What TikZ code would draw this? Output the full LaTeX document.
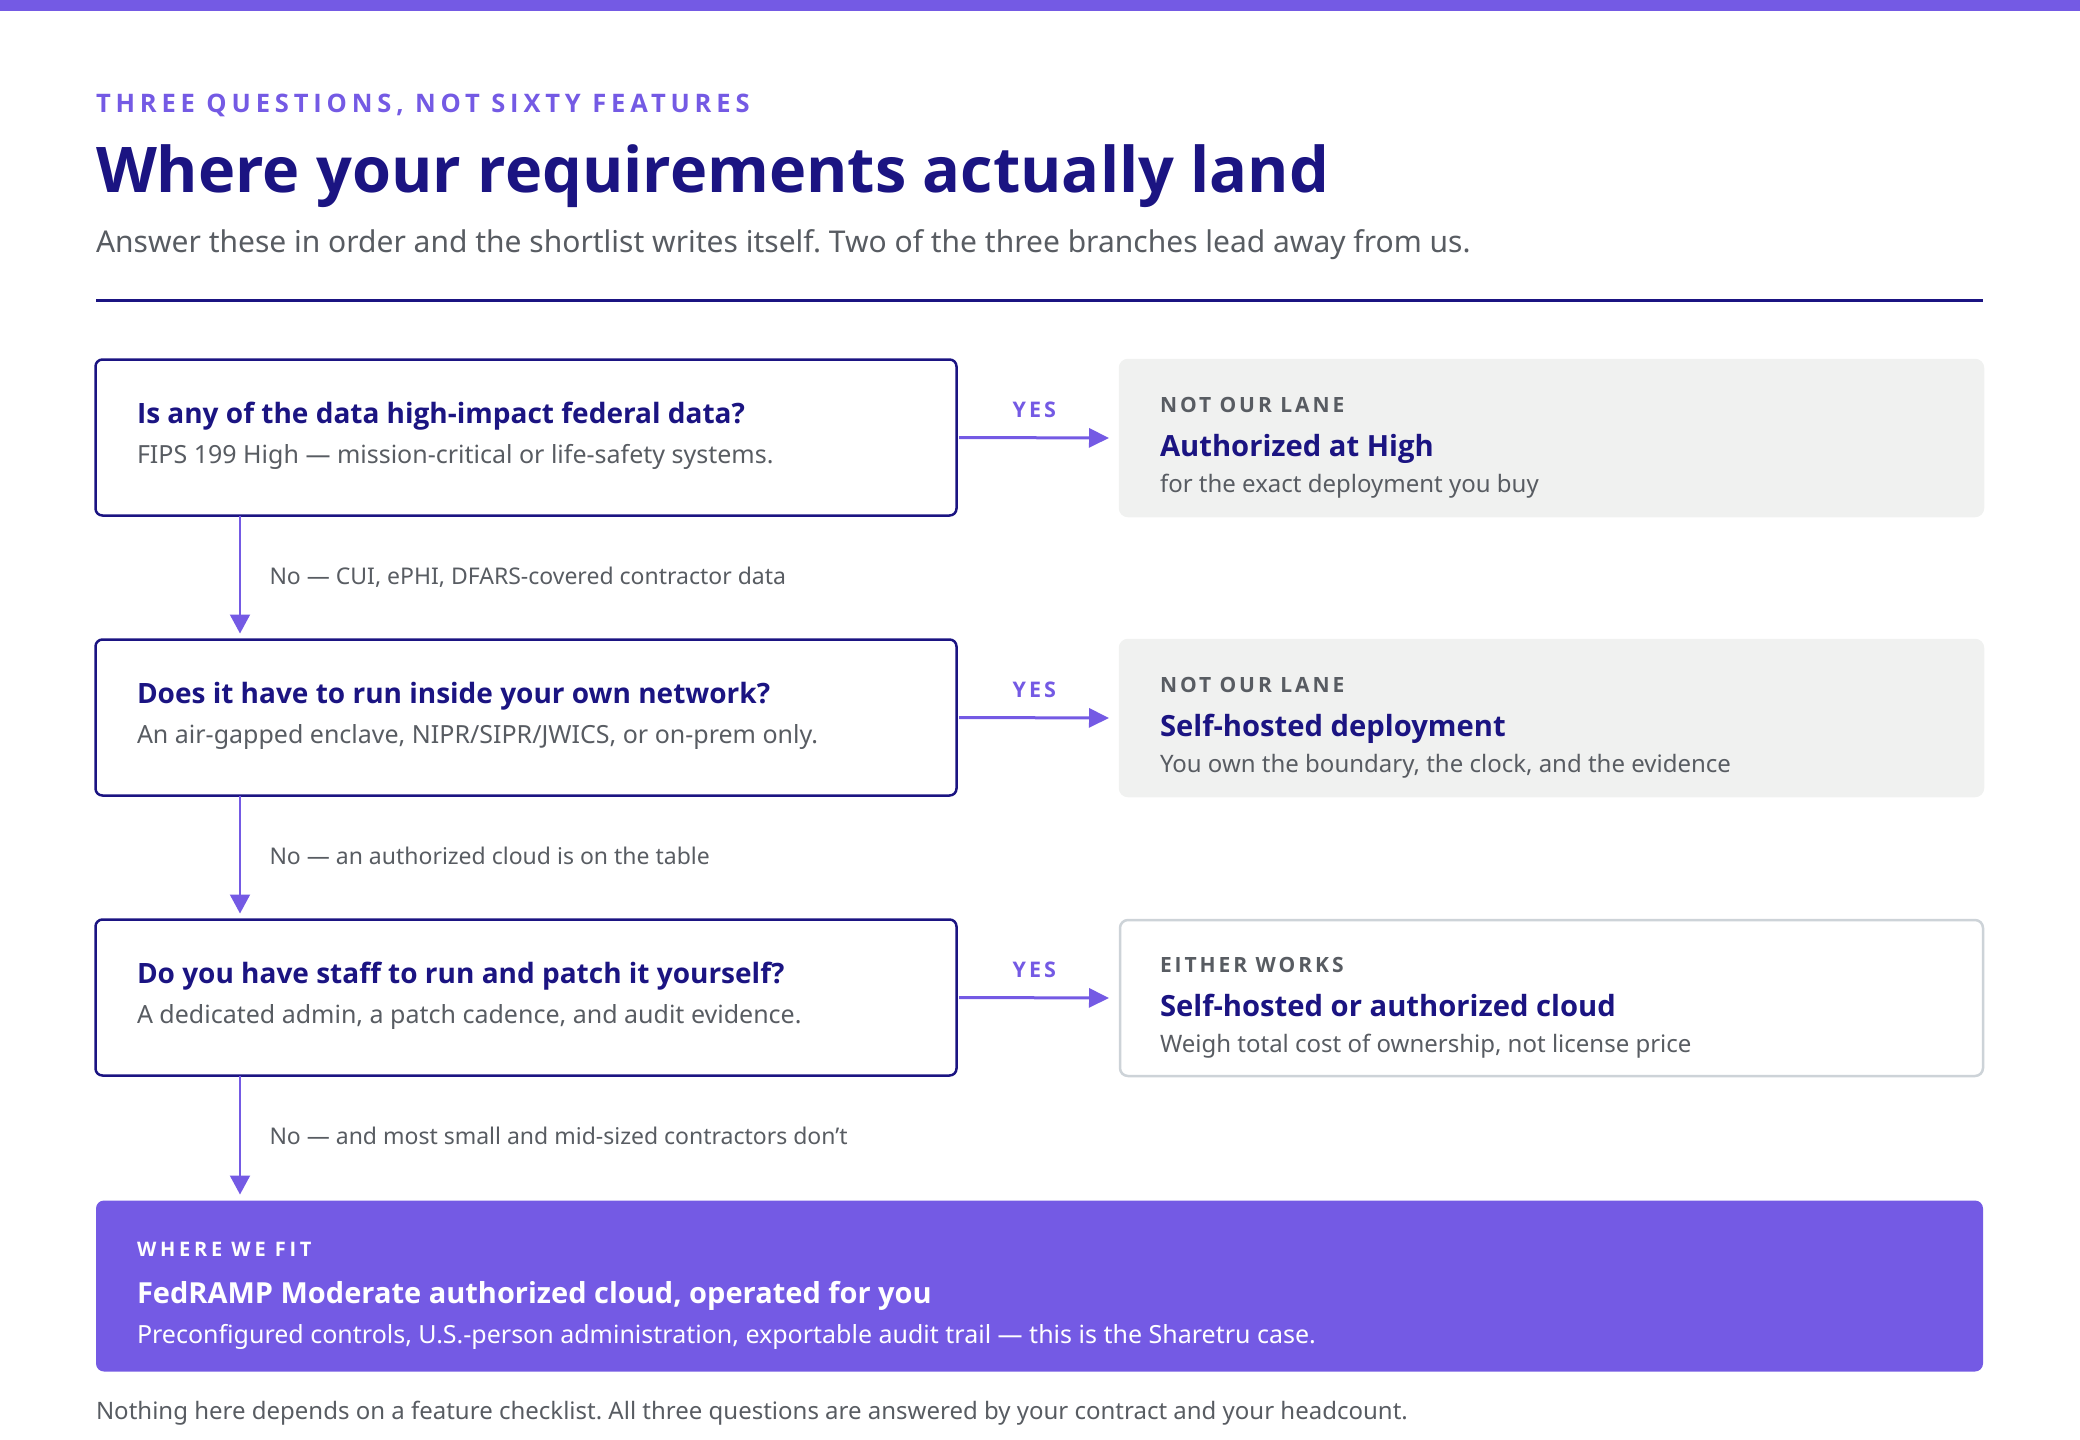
\documentclass[tikz,border=0pt]{standalone}
\usepackage{fontspec}
\setmainfont{Noto Sans}
\newfontfamily\headfont{Open Sans}
\newfontfamily\spacedfont{Open Sans}[LetterSpace=14]
\newfontfamily\kickerfont{Open Sans}[LetterSpace=19]
\usetikzlibrary{arrows.meta,positioning,calc}
\frenchspacing

\definecolor{accent}{RGB}{116,90,228}
\definecolor{navy}{RGB}{27,20,130}
\definecolor{inkgray}{RGB}{88,92,98}
\definecolor{laneg}{RGB}{240,241,240}
\definecolor{edgeg}{RGB}{205,211,216}

\begin{document}
\begin{tikzpicture}[x=1pt, y=-1pt,
	txt/.style={inner sep=0pt, outer sep=0pt, anchor=base west},
	qbox/.style={draw=navy, line width=2.5pt, rounded corners=7pt, minimum width=861pt, minimum height=156pt, inner sep=0pt, outer sep=0pt, anchor=north west},
	rbox/.style={line width=2.5pt, rounded corners=8pt, minimum width=863pt, minimum height=156pt, inner sep=0pt, outer sep=0pt, anchor=north west},
	qhead/.style={txt, text=navy, font=\headfont\bfseries\fontsize{28}{33}\selectfont},
	qsub/.style={txt, text=inkgray, font=\fontsize{25}{30}\selectfont},
	rsub/.style={txt, text=inkgray, font=\fontsize{24}{29}\selectfont},
	reyebrow/.style={txt, text=inkgray, font=\spacedfont\bfseries\fontsize{21}{25}\selectfont},
	rhead/.style={txt, text=navy, font=\headfont\bfseries\fontsize{29.2}{35}\selectfont},
	nolbl/.style={txt, text=inkgray, font=\fontsize{23}{28}\selectfont},
	yeslbl/.style={inner sep=0pt, anchor=base, text=accent, font=\spacedfont\bfseries\fontsize{21.5}{26}\selectfont},
	yes/.style={-{Triangle[length=20pt,width=19pt]}, draw=accent, line width=3pt, shorten <=2.5pt, shorten >=11pt},
	no/.style={-{Triangle[length=19pt,width=20pt]}, draw=accent, line width=2pt, shorten >=6pt}]
	\useasboundingbox (0,0) rectangle (2080,1440);
	% top band and heading
	\fill[accent] (0,0) rectangle (2080,11);
	\node[txt, text=accent, font=\kickerfont\bfseries\fontsize{25.5}{30}\selectfont] (kicker) at (96,112) {THREE QUESTIONS, NOT SIXTY FEATURES};
	\node[txt, text=navy, font=\headfont\bfseries\fontsize{63}{72}\selectfont] (title) at (96,192) {Where your requirements actually land};
	\node[txt, text=inkgray, font=\fontsize{30}{36}\selectfont] (lead) at (96,252) {Answer these in order and the shortlist writes itself. Two of the three branches lead away from us.};
	\draw[navy, line width=3pt] (96,300) -- (1983,300);

	% questions
	\foreach \i/\qt/\qs in {1/{Is any of the data high-impact federal data?}/{FIPS 199 High — mission-critical or life-safety systems.},
		2/{Does it have to run inside your own network?}/{An air-gapped enclave, NIPR/SIPR/JWICS, or on-prem only.},
		3/{Do you have staff to run and patch it yourself?}/{A dedicated admin, a patch cadence, and audit evidence.}} {
		\node[qbox] (q\i) at (95.5, {359.5+(\i-1)*280}) {};
		\node[qhead] (qh\i) at ($(q\i.north west)+(41.5,63.5)$) {\qt};
		\node[qsub] (qs\i) at ($(q\i.north west)+(41.5,103.5)$) {\qs};
	}

	% where each yes lands
	\foreach \i/\fc/\dc/\ey/\hd/\sb in {1/laneg/laneg/{NOT OUR LANE}/{Authorized at High}/{for the exact deployment you buy},
		2/laneg/laneg/{NOT OUR LANE}/{Self-hosted deployment}/{You own the boundary, the clock, and the evidence},
		3/white/edgeg/{EITHER WORKS}/{Self-hosted or authorized cloud}/{Weigh total cost of ownership, not license price}} {
		\node[rbox, fill=\fc, draw=\dc] (r\i) at (1120, {360+(\i-1)*280}) {};
		\node[reyebrow] (re\i) at ($(r\i.north west)+(40,52)$) {\ey};
		\node[rhead] (rh\i) at ($(r\i.north west)+(40,96)$) {\hd};
		\node[rsub] (rs\i) at ($(r\i.north west)+(40,132)$) {\sb};
		\draw[yes] (q\i.east) -- (r\i.west) node[yeslbl, pos=0.476, yshift=20pt] (y\i) {YES};
	}

	% where we fit
	\node[fill=accent, rounded corners=8pt, minimum width=1887pt, minimum height=171pt, inner sep=0pt, outer sep=0pt, anchor=north west] (fit) at (96,1200.5) {};
	\node[txt, text=white, font=\kickerfont\bfseries\fontsize{20}{24}\selectfont] (fite) at ($(fit.north west)+(41,56)$) {WHERE WE FIT};
	\node[txt, text=white, font=\headfont\bfseries\fontsize{29}{35}\selectfont] (fith) at ($(fit.north west)+(41,103)$) {FedRAMP Moderate authorized cloud, operated for you};
	\node[txt, text=white, font=\fontsize{25}{30}\selectfont] (fits) at ($(fit.north west)+(41,143)$) {Preconfigured controls, U.S.-person administration, exportable audit trail — this is the Sharetru case.};

	% the no branches
	\foreach \i/\j/\nt in {1/q2/{No — CUI, ePHI, DFARS-covered contractor data},
		2/q3/{No — an authorized cloud is on the table},
		3/fit/{No — and most small and mid-sized contractors don’t}} {
		\coordinate (a\i) at ($(q\i.south west)+(144.5,0)$);
		\draw[no] (a\i) -- (a\i |- \j.north);
		\node[nolbl] (n\i) at ($(q\i.south west)+(174,69)$) {\nt};
	}

	\node[txt, text=inkgray, font=\fontsize{24}{29}\selectfont] (note) at (96,1419) {Nothing here depends on a feature checklist. All three questions are answered by your contract and your headcount.};
\end{tikzpicture}
\end{document}
